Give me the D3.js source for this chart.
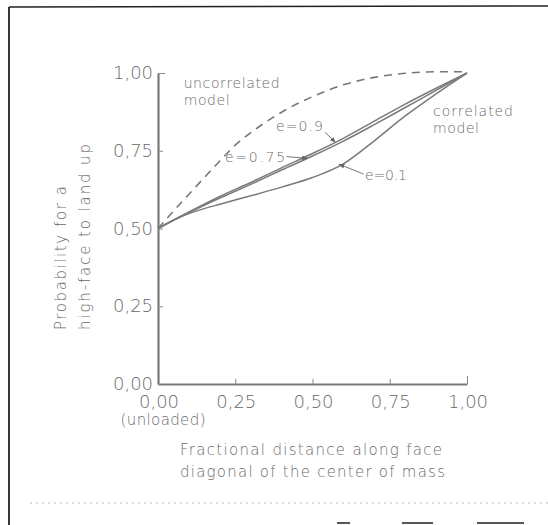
<!DOCTYPE html>
<html>
<head>
<meta charset="utf-8">
<script src="https://cdn.jsdelivr.net/npm/d3@7"></script>
<style>
  html, body { margin: 0; padding: 0; background: #fff; }
  svg text { font-family: 'DejaVu Sans', sans-serif; font-weight: 200; fill: #6a6a6a; }
</style>
</head>
<body>
<div id="chart"></div>
<script>
'use strict';

// fractional distance along the face diagonal
var xTicks = [0, 0.25, 0.5, 0.75, 1];
var yTicks = [0, 0.25, 0.5, 0.75, 1];
var tickLabels = ['0,00', '0,25', '0,50', '0,75', '1,00'];

// uncorrelated model (dashed)
var uncorrX = [0, 0.05, 0.1, 0.15, 0.2, 0.25, 0.3, 0.35, 0.4, 0.5, 0.6, 0.7, 0.8, 0.9, 1.0];
var uncorrY = [0.5, 0.556, 0.61, 0.664, 0.717, 0.768, 0.808, 0.843, 0.874, 0.924, 0.962, 0.986, 0.999, 1.004, 1.004];

// correlated model, three values of e
var corrX = [0, 0.1, 0.2, 0.3, 0.4, 0.5, 0.6, 0.7, 0.8, 0.9, 1.0];
var e09 = [0.5, 0.553, 0.603, 0.648, 0.695, 0.741, 0.79, 0.845, 0.9, 0.951, 1.0];
var e075 = [0.5, 0.551, 0.598, 0.642, 0.688, 0.733, 0.781, 0.834, 0.889, 0.944, 1.0];
var e01X = [0, 0.05, 0.1, 0.15, 0.2, 0.3, 0.4, 0.5, 0.6, 0.7, 0.8, 0.9, 1.0];
var e01 = [0.5, 0.527, 0.548, 0.564, 0.578, 0.605, 0.633, 0.664, 0.708, 0.782, 0.862, 0.933, 1.0];

var width = 548, height = 525;
var svg = d3.select('#chart').append('svg')
    .attr('width', width)
    .attr('height', height);

svg.append('rect').attr('width', width).attr('height', height).attr('fill', '#fff');

// scanned frame
svg.append('line').attr('x1', 9).attr('y1', 7).attr('x2', 548).attr('y2', 6)
    .attr('stroke', '#222').attr('stroke-width', 1.6);
svg.append('line').attr('x1', 9).attr('y1', 7).attr('x2', 9).attr('y2', 525)
    .attr('stroke', '#222').attr('stroke-width', 1.8);
svg.append('line').attr('x1', 30).attr('y1', 503).attr('x2', 548).attr('y2', 503)
    .attr('stroke', '#bbb').attr('stroke-width', 1).attr('stroke-dasharray', '2,4');
[[337, 350], [402, 433], [477, 524]].forEach(function (s) {
    svg.append('line').attr('x1', s[0]).attr('x2', s[1]).attr('y1', 523).attr('y2', 523)
        .attr('stroke', '#555').attr('stroke-width', 2);
});

var x = d3.scaleLinear().domain([0, 1]).range([158, 467]);
var y = d3.scaleLinear().domain([0, 1]).range([384, 73]);

// axes
var xAxis = d3.axisBottom(x).tickValues(xTicks.slice(1)).tickSizeInner(-5).tickSizeOuter(0).tickFormat('');
var yAxis = d3.axisLeft(y).tickValues(yTicks.slice(1)).tickSizeInner(-5).tickSizeOuter(0).tickFormat('');

var gx = svg.append('g').attr('transform', 'translate(0,' + y(0) + ')').call(xAxis);
var gy = svg.append('g').attr('transform', 'translate(' + x(0) + ',0)').call(yAxis);
[gx, gy].forEach(function (g) {
    g.select('.domain').attr('stroke', '#7a7a7a').attr('stroke-width', 2.2);
    g.selectAll('.tick line').attr('stroke', '#888').attr('stroke-width', 1);
});
gx.selectAll('.tick line').filter(function (d) { return d === 1; }).attr('y2', -8);
gy.selectAll('.tick line').filter(function (d) { return d === 1; }).attr('x2', 7);

// tick labels
svg.selectAll('text.xt').data(xTicks).enter().append('text')
    .attr('class', 'xt')
    .attr('x', function (d) { return x(d) + 1; })
    .attr('y', y(0) + 24)
    .attr('text-anchor', 'middle')
    .attr('font-size', 17)
    .attr('textLength', 40).attr('lengthAdjust', 'spacingAndGlyphs')
    .text(function (d, i) { return tickLabels[i]; });

svg.selectAll('text.yt').data(yTicks).enter().append('text')
    .attr('class', 'yt')
    .attr('x', x(0) - 5)
    .attr('y', function (d) { return y(d) + 6; })
    .attr('text-anchor', 'end')
    .attr('font-size', 17)
    .attr('textLength', 40).attr('lengthAdjust', 'spacingAndGlyphs')
    .text(function (d, i) { return tickLabels[i]; });

svg.append('text').attr('x', 163).attr('y', y(0) + 41)
    .attr('text-anchor', 'middle').attr('font-size', 15)
    .attr('textLength', 85).attr('lengthAdjust', 'spacing')
    .text('(unloaded)');

// axis titles
svg.append('text').attr('x', 180).attr('y', 455).attr('font-size', 15)
    .attr('textLength', 262).attr('lengthAdjust', 'spacing')
    .text('Fractional distance along face');
svg.append('text').attr('x', 180).attr('y', 477).attr('font-size', 15)
    .attr('textLength', 265).attr('lengthAdjust', 'spacing')
    .text('diagonal of the center of mass');

svg.append('text').attr('transform', 'translate(66,330) rotate(-90)')
    .attr('font-size', 15).attr('textLength', 144).attr('lengthAdjust', 'spacing')
    .text('Probability for a');
svg.append('text').attr('transform', 'translate(90,330) rotate(-90)')
    .attr('font-size', 15).attr('textLength', 186).attr('lengthAdjust', 'spacing')
    .text('high-face to land up');

// curves
var line = d3.line()
    .x(function (d) { return x(d[0]); })
    .y(function (d) { return y(d[1]); })
    .curve(d3.curveMonotoneX);

function pairs(xs, ys) { return xs.map(function (v, i) { return [v, ys[i]]; }); }

svg.append('path').datum(pairs(uncorrX, uncorrY))
    .attr('d', line).attr('fill', 'none')
    .attr('stroke', '#777').attr('stroke-width', 1.6).attr('stroke-dasharray', '8,6');

[[corrX, e075], [corrX, e09], [e01X, e01]].forEach(function (s) {
    svg.append('path').datum(pairs(s[0], s[1]))
        .attr('d', line).attr('fill', 'none')
        .attr('stroke', '#7a7a7a').attr('stroke-width', 1.5);
});

// labels and pointers
var notes = [
    {t: 'uncorrelated', x: 0.083, y: 0.952, w: 96},
    {t: 'model', x: 0.083, y: 0.897, w: 46},
    {t: 'correlated', x: 0.89, y: 0.862, w: 80},
    {t: 'model', x: 0.89, y: 0.807, w: 46},
    {t: 'e=0.9', x: 0.382, y: 0.813, w: 47},
    {t: 'e=0.75', x: 0.217, y: 0.715, w: 60},
    {t: 'e=0.1', x: 0.67, y: 0.656, w: 42}
];
svg.selectAll('text.note').data(notes).enter().append('text')
    .attr('class', 'note')
    .attr('x', function (d) { return x(d.x); })
    .attr('y', function (d) { return y(d.y); })
    .attr('font-size', 14)
    .attr('textLength', function (d) { return d.w; })
    .attr('lengthAdjust', 'spacing')
    .text(function (d) { return d.t; });

svg.append('defs').append('marker')
    .attr('id', 'head').attr('viewBox', '0 0 10 10')
    .attr('refX', 9).attr('refY', 5)
    .attr('markerWidth', 6).attr('markerHeight', 6)
    .attr('orient', 'auto')
    .append('path').attr('d', 'M0,1 L10,5 L0,9 Z').attr('fill', '#666');

var pointers = [
    [[0.540, 0.810], [0.574, 0.777]],
    [[0.416, 0.731], [0.484, 0.726]],
    [[0.665, 0.675], [0.586, 0.707]]
];
svg.selectAll('line.ptr').data(pointers).enter().append('line')
    .attr('class', 'ptr')
    .attr('x1', function (d) { return x(d[0][0]); })
    .attr('y1', function (d) { return y(d[0][1]); })
    .attr('x2', function (d) { return x(d[1][0]); })
    .attr('y2', function (d) { return y(d[1][1]); })
    .attr('stroke', '#777').attr('stroke-width', 1)
    .attr('marker-end', 'url(#head)');
</script>
</body>
</html>
